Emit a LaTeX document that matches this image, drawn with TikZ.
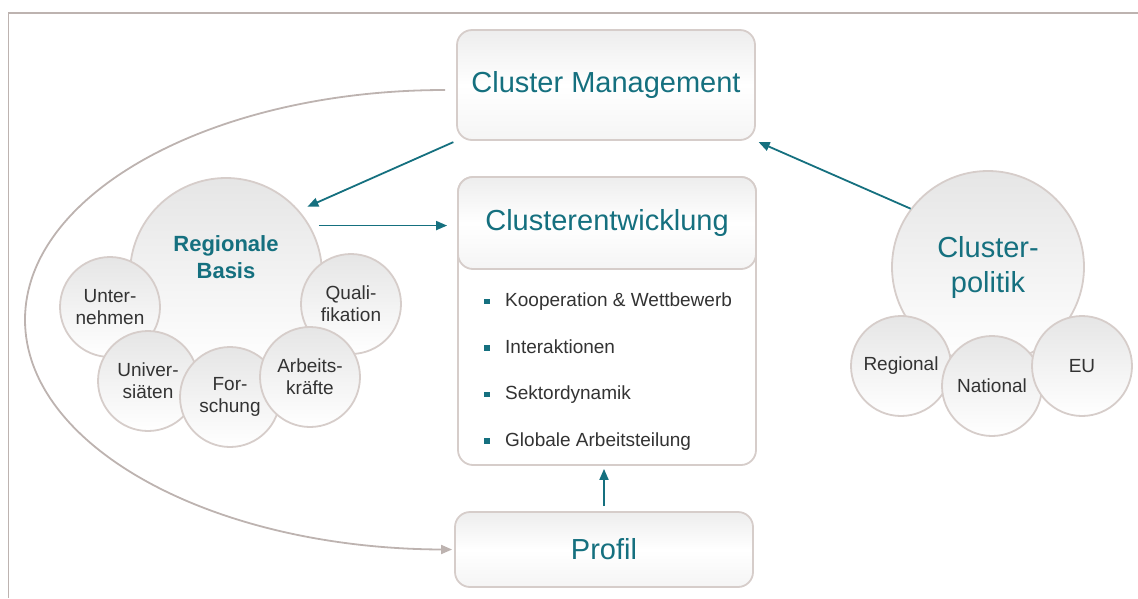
\documentclass[tikz,border=0pt]{standalone}
\usepackage{fontspec}
\setmainfont{Liberation Sans}
\usetikzlibrary{arrows.meta}
\definecolor{petrol}{HTML}{15707F}
\definecolor{rim}{HTML}{D6CDCA}
\definecolor{framegray}{HTML}{BDB3B0}
\definecolor{ink}{HTML}{333333}

\begin{document}
\begin{tikzpicture}[x=1pt, y=-1pt,
    box/.style={draw=rim, line width=1.8pt, rounded corners=15pt, top color=black!7, bottom color=black!4, middle color=white, minimum width=298pt, text=petrol, font=\fontsize{29}{35}\selectfont},
    bigbub/.style={circle, draw=rim, line width=1.8pt, top color=black!10, bottom color=white, minimum size=192pt, inner sep=0pt, align=center},
    bub/.style={circle, draw=rim, line width=1.8pt, top color=black!10, bottom color=white, minimum size=100pt, inner sep=0pt, align=center, text=ink, font=\fontsize{19}{22}\selectfont},
    bullet/.style={fill=petrol, minimum size=5.5pt, inner sep=0pt},
    item/.style={anchor=west, text=ink, inner sep=0pt, text height=13.6pt, text depth=0pt, font=\fontsize{19}{22}\selectfont},
    flow/.style={draw=petrol, line width=1.8pt, -{Triangle[length=11pt,width=9pt]}}]
    \useasboundingbox (0,0) rectangle (1138,598);
    \draw[framegray, line width=1.8pt] (8.5,598) -- (8.5,13) -- (1138,13);

    % boxes in the middle
    \node[box, minimum height=110pt] (cm) at (606,85) {Cluster Management};
    \node[draw=rim, line width=1.8pt, rounded corners=15pt, fill=white, minimum width=298pt, minimum height=288pt] (ce) at (607,321) {};
    \node[box, minimum height=92pt] (ceh) at (607,223) {Clusterentwicklung};
    \node[box, minimum height=75pt] (pf) at (604,549.5) {Profil};
    \foreach \t [count=\i] in {Kooperation \& Wettbewerb, Interaktionen, Sektordynamik, Globale Arbeitsteilung} {
        \node[item] (it\i) at (505,253.5+46.5*\i) {\t};
        \node[bullet] (b\i) at (487,255+46.5*\i) {};
    }

    % regionale basis
    \node[bigbub, text=petrol, font=\bfseries\fontsize{22}{27}\selectfont] (rb) at (226,274) {Regionale\\Basis\\[6pt]};
    \node[bub] (unt) at (110,307) {Unter-\\nehmen};
    \node[bub] (qua) at (351,304) {Quali-\\fikation};
    \node[bub] (uni) at (148,381) {Univer-\\siäten};
    \node[bub] (for) at (230,397) {For-\\schung};
    \node[bub] (arb) at (310,377) {Arbeits-\\kräfte};

    % clusterpolitik
    \node[bigbub, text=petrol, font=\fontsize{29}{35}\selectfont] (cp) at (988,267) {Cluster-\\politik};
    \node[bub] (reg) at (901,366) {Regional};
    \node[bub] (nat) at (992,386) {National};
    \node[bub] (eu) at (1082,366) {EU};

    % arrows
    \draw[flow, shorten <=3pt, shorten >=9pt] (cm.south west) -- (rb.41);
    \draw[flow, shorten <=9pt, shorten >=10pt] (rb.30) -- (rb.30 -| ceh.west);
    \draw[flow, shorten >=3pt] (cp.143) -- (cm.south east);
    \draw[flow, shorten <=5pt, shorten >=3pt] (pf.north) -- (pf.north |- ce.south);
    \coordinate (lp) at (445,90);
    \draw[framegray, line width=1.8pt, -{Triangle[length=11pt,width=9pt]}, shorten >=2pt] (lp) arc[start angle=-90, end angle=-270, x radius=420, y radius=229.75] -- (pf.west);
\end{tikzpicture}
\end{document}
